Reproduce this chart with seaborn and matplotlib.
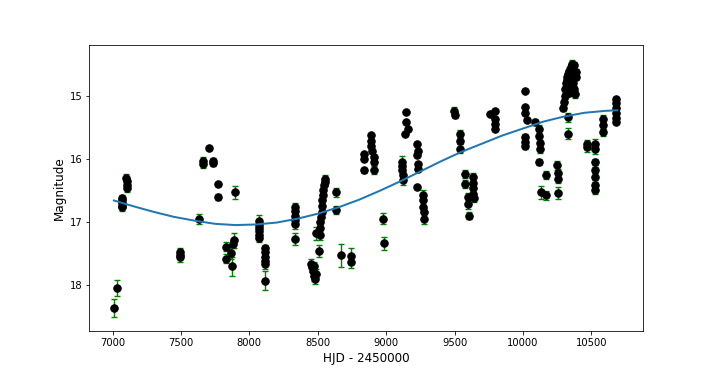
import numpy as np
import pandas as pd
import matplotlib
matplotlib.use("Agg")
import matplotlib.pyplot as plt
import seaborn as sns

# Light curve points: HJD - 2450000, magnitude, error
hjd = [
    7010, 7030,
    7068, 7068, 7070, 7072, 7072,
    7102, 7104, 7105, 7106,
    7490, 7493, 7495,
    7632,
    7662, 7664, 7705, 7733, 7735,
    7771, 7773,
    7827, 7827, 7866, 7870, 7890, 7880,
    7892,
    8068, 8070, 8071, 8072, 8072, 8073,
    8112, 8113, 8114, 8115, 8116, 8115,
    8332, 8333, 8334, 8335, 8336, 8337,
    8451, 8458, 8466, 8473, 8480, 8488, 8470,
    8512, 8517, 8517, 8520, 8524, 8528, 8531, 8535, 8539, 8542, 8546, 8550, 8553,
    8488,
    8633, 8635,
    8672,
    8741, 8742,
    8836, 8838, 8840, 8888, 8890, 8892, 8894, 8910, 8912, 8914,
    8980, 8982,
    9114, 9116, 9118, 9120, 9122,
    9145, 9145, 9158, 9140,
    9224, 9230, 9226, 9233, 9233, 9226,
    9268, 9270, 9272, 9274, 9274,
    9499, 9500,
    9538, 9540, 9542,
    9577, 9578,
    9600, 9601, 9603,
    9635, 9636, 9637, 9638, 9640,
    9760, 9795, 9796, 9797, 9798,
    10013, 10014, 10015, 10027, 10014, 10015, 10016,
    10088,
    10120, 10121, 10122, 10122, 10121,
    10169, 10170,
    10130,
    10252, 10253, 10254, 10255,
    10295, 10300, 10305, 10310, 10315, 10320, 10330, 10340, 10350, 10360,
    10370, 10355, 10365, 10375, 10380, 10345, 10335, 10325, 10385, 10390,
    10332, 10333,
    10465, 10467,
    10525, 10526, 10527, 10527, 10528, 10529, 10530,
    10586, 10588, 10589,
    10678, 10679, 10680, 10681, 10682, 10683,
]
mag = [
    18.36, 18.05,
    16.62, 16.66, 16.70, 16.74, 16.77,
    16.30, 16.35, 16.41, 16.46,
    17.47, 17.52, 17.56,
    16.95,
    16.03, 16.08, 15.83, 16.03, 16.07,
    16.40, 16.60,
    17.39, 17.58, 17.49, 17.70, 17.29, 17.35,
    16.53,
    16.98, 17.05, 17.10, 17.15, 17.20, 17.25,
    17.42, 17.48, 17.55, 17.62, 17.66, 17.93,
    16.77, 16.83, 16.90, 16.97, 17.04, 17.27,
    17.66, 17.72, 17.78, 17.85, 17.90, 17.82, 17.70,
    17.46, 17.20, 17.10, 17.00, 16.92, 16.85, 16.75, 16.65, 16.58, 16.50, 16.42, 16.36, 16.32,
    17.18,
    16.53, 16.81,
    17.53,
    17.54, 17.63,
    15.93, 16.00, 16.18, 15.63, 15.71, 15.80, 15.88, 15.97, 16.05, 16.18,
    16.95, 17.34,
    16.05, 16.12, 16.18, 16.26, 16.34,
    15.26, 15.42, 15.53, 15.60,
    15.76, 15.87, 15.94, 16.08, 16.16, 16.45,
    16.58, 16.66, 16.76, 16.85, 16.95,
    15.24, 15.31,
    15.61, 15.71, 15.84,
    16.24, 16.40,
    16.61, 16.72, 16.90,
    16.29, 16.38, 16.46, 16.55, 16.62,
    15.29, 15.24, 15.37, 15.45, 15.53,
    14.92, 15.18, 15.28, 15.39, 15.66, 15.73, 15.80,
    15.42,
    15.53, 15.64, 15.75, 15.84, 16.05,
    16.26, 16.58,
    16.53,
    16.10, 16.22, 16.32, 16.54,
    15.19, 15.10, 15.00, 14.90, 14.80, 14.70, 14.65, 14.60, 14.55, 14.50,
    14.52, 14.70, 14.80, 14.90, 14.98, 14.85, 14.95, 14.75, 14.62, 14.70,
    15.34, 15.60,
    15.77, 15.82,
    15.76, 15.85, 16.05, 16.18, 16.28, 16.42, 16.50,
    15.37, 15.47, 15.58,
    15.05, 15.12, 15.20, 15.28, 15.36, 15.42,
]
err = [
    0.14, 0.13,
    0.05, 0.05, 0.05, 0.05, 0.06,
    0.06, 0.05, 0.05, 0.06,
    0.06, 0.07, 0.07,
    0.08,
    0.06, 0.06, 0.03, 0.05, 0.05,
    0.03, 0.05,
    0.07, 0.07, 0.10, 0.15, 0.12, 0.07,
    0.10,
    0.09, 0.06, 0.06, 0.06, 0.06, 0.07,
    0.06, 0.06, 0.06, 0.07, 0.08, 0.15,
    0.07, 0.06, 0.06, 0.06, 0.07, 0.10,
    0.07, 0.08, 0.07, 0.08, 0.08, 0.07, 0.07,
    0.10, 0.08, 0.07, 0.07, 0.07, 0.07, 0.07, 0.07, 0.07, 0.07, 0.07, 0.07, 0.07,
    0.10,
    0.07, 0.07,
    0.18,
    0.12, 0.10,
    0.03, 0.03, 0.04, 0.03, 0.03, 0.03, 0.03, 0.03, 0.04, 0.06,
    0.09, 0.10,
    0.10, 0.06, 0.06, 0.06, 0.07,
    0.02, 0.02, 0.02, 0.02,
    0.03, 0.03, 0.03, 0.03, 0.03, 0.03,
    0.09, 0.07, 0.07, 0.07, 0.08,
    0.06, 0.05,
    0.06, 0.06, 0.07,
    0.06, 0.06,
    0.07, 0.07, 0.06,
    0.07, 0.07, 0.07, 0.08, 0.07,
    0.02, 0.03, 0.03, 0.03, 0.03,
    0.02, 0.02, 0.03, 0.03, 0.05, 0.05, 0.05,
    0.05,
    0.07, 0.05, 0.05, 0.07, 0.05,
    0.06, 0.07,
    0.10,
    0.07, 0.06, 0.06, 0.10,
    0.05, 0.05, 0.05, 0.05, 0.05, 0.05, 0.05, 0.05, 0.05, 0.07,
    0.05, 0.05, 0.05, 0.05, 0.05, 0.05, 0.05, 0.05, 0.05, 0.05,
    0.07, 0.09,
    0.07, 0.07,
    0.07, 0.07, 0.05, 0.05, 0.05, 0.05, 0.05,
    0.06, 0.05, 0.06,
    0.03, 0.03, 0.03, 0.03, 0.03, 0.03,
]

# Smooth trend curve
fit_hjd = [7010, 7150, 7300, 7450, 7600, 7750, 7900, 8050, 8200, 8350,
           8500, 8650, 8800, 8950, 9100, 9250, 9400, 9550, 9700, 9850,
           10000, 10150, 10300, 10450, 10600, 10690]
fit_mag = [16.66, 16.75, 16.84, 16.92, 16.98, 17.03, 17.05, 17.04, 17.01, 16.95,
           16.87, 16.77, 16.65, 16.51, 16.36, 16.20, 16.04, 15.89, 15.76, 15.63,
           15.52, 15.41, 15.33, 15.27, 15.24, 15.23]

df = pd.DataFrame({"hjd": hjd, "mag": mag, "err": err})
fit = pd.DataFrame({"hjd": fit_hjd, "mag": fit_mag})

fig, ax = plt.subplots(figsize=(714 / 72, 372 / 72), dpi=72)
ax.errorbar(df["hjd"], df["mag"], yerr=df["err"], fmt="o", color="black",
            ecolor="green", capsize=3, markersize=7.5, elinewidth=1.4,
            capthick=1.4, zorder=2)
sns.lineplot(data=fit, x="hjd", y="mag", ax=ax, color="#1f77b4", linewidth=2,
             sort=True, zorder=3)

ax.set_xlim(6830, 10875)
ax.set_ylim(18.73, 14.19)
ax.set_xlabel("HJD - 2450000", fontsize=12)
ax.set_ylabel("Magnitude", fontsize=12)

fig.savefig("out.png", dpi=72)
